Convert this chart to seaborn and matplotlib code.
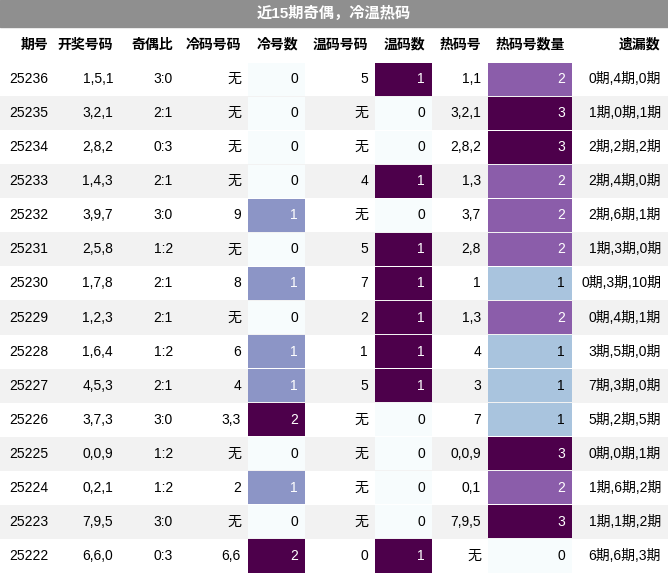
import matplotlib
matplotlib.use("Agg")
import matplotlib.pyplot as plt
import seaborn as sns
from matplotlib.patches import Rectangle
from matplotlib.colors import Normalize

plt.rcParams["font.family"] = ["Liberation Sans", "Noto Sans CJK SC", "Noto Sans CJK JP", "Noto Sans CJK TC", "Noto Sans CJK KR", "DejaVu Sans"]

title = "近15期奇偶，冷温热码"
headers = ["期号", "开奖号码", "奇偶比", "冷码号码", "冷号数", "温码号码", "温码数", "热码号", "热码号数量", "遗漏数"]
issue = ["25236","25235","25234","25233","25232","25231","25230","25229","25228","25227","25226","25225","25224","25223","25222"]
draw = ["1,5,1","3,2,1","2,8,2","1,4,3","3,9,7","2,5,8","1,7,8","1,2,3","1,6,4","4,5,3","3,7,3","0,0,9","0,2,1","7,9,5","6,6,0"]
parity = ["3:0","2:1","0:3","2:1","3:0","1:2","2:1","2:1","1:2","2:1","3:0","1:2","1:2","3:0","0:3"]
cold_nums = ["无","无","无","无","9","无","8","无","6","4","3,3","无","2","无","6,6"]
cold_cnt = [0,0,0,0,1,0,1,0,1,1,2,0,1,0,2]
warm_nums = ["5","无","无","4","无","5","7","2","1","5","无","无","无","无","0"]
warm_cnt = [1,0,0,1,0,1,1,1,1,1,0,0,0,0,1]
hot_nums = ["1,1","3,2,1","2,8,2","1,3","3,7","2,8","1","1,3","4","3","7","0,0,9","0,1","7,9,5","无"]
hot_cnt = [2,3,3,2,2,2,1,2,1,1,1,3,2,3,0]
miss = ["0期,4期,0期","1期,0期,1期","2期,2期,2期","2期,4期,0期","2期,6期,1期","1期,3期,0期","0期,3期,10期","0期,4期,1期","3期,5期,0期","7期,3期,0期","5期,2期,5期","0期,0期,1期","1期,6期,2期","1期,1期,2期","6期,6期,3期"]

cols = [issue, draw, parity, cold_nums, cold_cnt, warm_nums, warm_cnt, hot_nums, hot_cnt, miss]
colored = {4: cold_cnt, 6: warm_cnt, 8: hot_cnt}
edges = [0, 55, 120, 180, 248, 305, 375, 432, 488, 572, 668]

W, H = 668, 573
fig = plt.figure(figsize=(W/100, H/100), dpi=100)
ax = fig.add_axes([0, 0, 1, 1])
ax.set_xlim(0, W); ax.set_ylim(H, 0); ax.axis("off")

cmap = sns.color_palette("BuPu", as_cmap=True)

title_h, head_h = 27, 35
row_h = (H - title_h - head_h) / len(issue)

ax.add_patch(Rectangle((0, 0), W, title_h, color="#8f8f8f"))
ax.text(W/2, title_h/2, title, ha="center", va="center", color="white", fontsize=11, fontweight="bold")

for j, h in enumerate(headers):
    ax.text(edges[j+1]-7, title_h + head_h/2, h, ha="right", va="center", fontsize=10, fontweight="bold")

for i in range(len(issue)):
    y0 = title_h + head_h + i*row_h
    if i % 2 == 1:
        ax.add_patch(Rectangle((0, y0), W, row_h, color="#f2f2f2", lw=0))
    for j, col in enumerate(cols):
        val = col[i]
        tc = "black"
        if j in colored:
            vals = colored[j]
            norm = Normalize(0, max(vals))
            c = cmap(norm(val))
            ax.add_patch(Rectangle((edges[j], y0+0.5), edges[j+1]-edges[j], row_h-1, color=c, lw=0))
            if norm(val) > 0.4:
                tc = "white"
        ax.text(edges[j+1]-7, y0 + row_h/2, str(val), ha="right", va="center", fontsize=10, color=tc)

fig.savefig("out.png", dpi=100)
